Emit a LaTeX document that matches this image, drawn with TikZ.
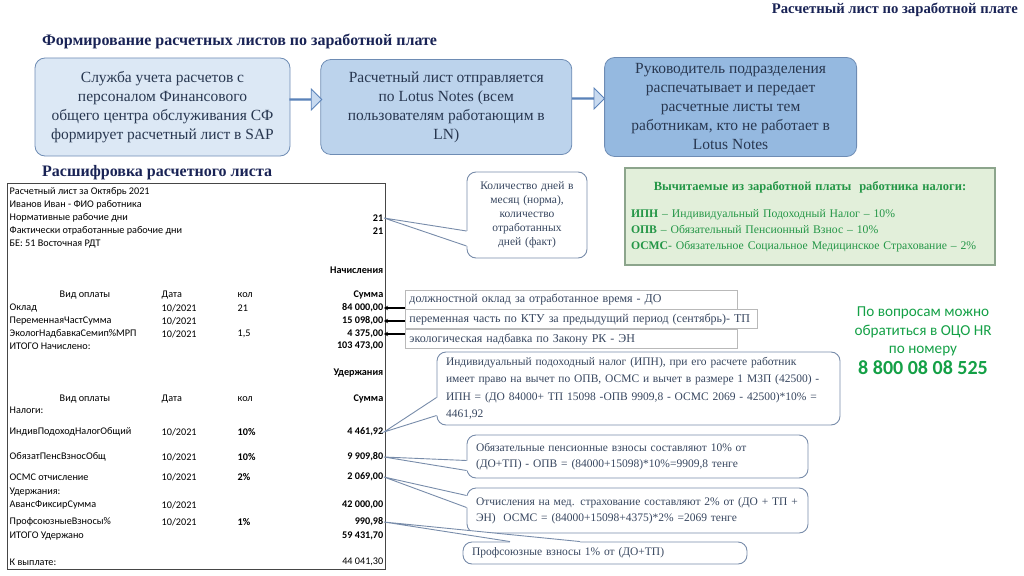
\documentclass[tikz,border=0pt]{standalone}
\usepackage{fontspec}
\setmainfont{Liberation Serif}
\newfontfamily\calibri{Carlito}
\usetikzlibrary{shapes.arrows,arrows.meta,positioning,calc}
\definecolor{headclr}{RGB}{25,35,85}
\definecolor{flowtxt}{RGB}{40,55,80}
\definecolor{flowbdr}{RGB}{110,140,180}
\definecolor{flow1}{RGB}{220,232,245}
\definecolor{flow2}{RGB}{188,211,236}
\definecolor{flow3}{RGB}{149,185,224}
\definecolor{arrfill}{RGB}{200,218,240}
\definecolor{arrbdr}{RGB}{90,130,185}
\definecolor{notebdr}{RGB}{120,140,170}
\definecolor{notetxt}{RGB}{55,70,95}
\definecolor{infobdr}{RGB}{185,185,185}
\definecolor{sheetbdr}{RGB}{70,70,70}
\definecolor{taxfill}{RGB}{226,239,218}
\definecolor{taxbdr}{RGB}{140,165,140}
\definecolor{taxtxt}{RGB}{35,150,70}
\definecolor{hrgreen}{RGB}{20,160,70}
\tikzset{
  head/.style={font=\bfseries\fontsize{16}{18}\selectfont,text=headclr,inner sep=0pt},
  flowbox/.style={rectangle,rounded corners=10pt,draw=flowbdr,line width=0.8pt,
    align=center,text=flowtxt,font=\fontsize{15.5}{19}\selectfont,inner sep=2pt},
  flowarr/.style={single arrow,draw=arrbdr,fill=arrfill,line width=0.8pt,
    minimum height=#1,minimum width=21pt,single arrow head extend=6.5pt,inner sep=0pt},
  sheet/.style={rectangle,draw=sheetbdr,line width=1.1pt,fill=white},
  cell/.style={font=\calibri\fontsize{10.2}{11}\selectfont,inner sep=0.5pt,text=black},
  sumcell/.style={cell,font=\calibri\bfseries\fontsize{10.2}{11}\selectfont,anchor=east},
  infobox/.style={rectangle,draw=infobdr,line width=0.8pt,fill=white,
    minimum height=19pt,inner xsep=4pt,inner ysep=0pt,align=left,
    font=\fontsize{12}{14}\selectfont,text=notetxt},
  note/.style={rectangle,rounded corners=9pt,draw=notebdr,line width=0.9pt,fill=white,
    inner xsep=9pt,inner ysep=2pt,align=left,text=notetxt,font=\fontsize{11.5}{17.5}\selectfont},
  tail/.style={draw=notebdr,line width=0.9pt},
  taxbox/.style={rectangle,draw=taxbdr,line width=1.1pt,fill=taxfill,inner xsep=6pt,
    align=left,text=taxtxt,font=\fontsize{11.7}{16}\selectfont},
  hr/.style={align=center,text=hrgreen,font=\calibri\fontsize{15.2}{18.5}\selectfont,inner sep=0pt},
  arr/.style={-{Stealth[length=4pt,width=4.5pt]},line width=1.4pt,black},
}
\begin{document}
\begin{tikzpicture}[x=1pt,y=-1pt]
  \useasboundingbox (0,0) rectangle (1024,575);

  % formation of pay slips
  \node[head,font=\bfseries\fontsize{14.7}{18}\selectfont,anchor=east] (title) at (1018,10) {Расчетный лист по заработной плате};
  \node[head,anchor=west] (hflow) at (42,41) {Формирование расчетных листов по заработной плате};
  \node[flowbox,fill=flow1,minimum width=255pt,minimum height=98pt] (srv) at (162.5,107)
    {Служба учета расчетов с\\персоналом Финансового\\общего центра обслуживания СФ\\формирует расчетный лист в SAP};
  \node[flowbox,fill=flow2,minimum width=251pt,minimum height=95pt,right=30pt of srv] (mail)
    {Расчетный лист отправляется\\по Lotus Notes  (всем\\пользователям работающим в\\LN)};
  \node[flowbox,fill=flow3,minimum width=252pt,minimum height=99pt,right=32pt of mail] (lead)
    {Руководитель подразделения\\распечатывает и передает\\расчетные листы тем\\работникам, кто не работает в\\Lotus Notes};
  \node[flowarr=32pt] (a1) at ($(srv.east)!0.5!(mail.west)+(0,-7.5)$) {};
  \node[flowarr=32pt] (a2) at ($(mail.east)!0.5!(lead.west)+(0,-8.5)$) {};

  % pay slip
  \node[head,anchor=west] (hslip) at (42,173) {Расшифровка расчетного листа};
  \node[sheet,anchor=north west,minimum width=378pt,minimum height=386pt] (sheet) at (7,183) {};

  \foreach \y/\t in {192/{Расчетный лист за Октябрь 2021},205/{Иванов Иван - ФИО работника},
      218/{Нормативные рабочие дни},231/{Фактически отработанные рабочие дни},244/{БЕ: 51 Восточная РДТ},
      308/{Оклад},321/{ПеременнаяЧастСумма},334/{ЭкологНадбавкаСемип\%МРП},346/{ИТОГО Начислено:},
      410/{Налоги:},432/{ИндивПодоходНалогОбщий},457/{ОбязатПенсВзносОбщ},477/{ОСМС отчисление},
      492/{Удержания:},505/{АвансФиксирСумма},522/{ПрофсоюзныеВзносы\%},536/{ИТОГО Удержано},
      562/{К выплате:}}
    \node[cell,anchor=west] (row\y) at (9,\y) {\t};

  \foreach \y in {295,399} {
    \node[cell] (vid\y) at (85,\y) {Вид оплаты};
    \node[cell,anchor=west] (dat\y) at (161,\y) {Дата};
    \node[cell,anchor=west] (kol\y) at (237,\y) {кол};
  }
  \foreach \y in {308,321,334,432,457,477,505,522}
    \node[cell,anchor=west] (date\y) at (161,\y) {10/2021};
  \foreach \y/\t in {308/21,334/{1,5},432/\textbf{10\%},457/\textbf{10\%},477/\textbf{2\%},522/\textbf{1\%}}
    \node[cell,anchor=west] (kol\y) at (237,\y) {\t};
  \foreach \y/\t in {218/21,231/21,270/Начисления,295/Сумма,308/{84 000,00},321/{15 098,00},
      334/{4 375,00},346/{103 473,00},373/Удержания,399/Сумма,432/{4 461,92},457/{9 909,80},
      477/{2 069,00},505/{42 000,00},522/{990,98},536/{59 431,70}}
    \node[sumcell] (sum\y) at (384,\y) {\t};
  \node[cell,anchor=east] (sum562) at (384,562) {44 041,30};

  % explanations
  \node[infobox,text width=324pt,anchor=west] (do) at (405,299.5)
    {должностной оклад за отработанное время - ДО};
  \node[infobox,text width=344pt,anchor=north west] (tp) at (do.south west)
    {переменная часть по КТУ за предыдущий период (сентябрь)- ТП};
  \node[infobox,text width=324pt,anchor=north west] (en) at (tp.south west)
    {экологическая надбавка по Закону РК - ЭН};
  \foreach \b/\v in {do/sum308,tp/sum321,en/sum334}
    \draw[arr] (\b.west |- \v.east) -- (\v.east);

  \node[note,font=\fontsize{11.5}{14}\selectfont,text width=102pt,align=center,minimum height=86pt] (cdays) at (527,215)
    {Количество дней в\\месяц (норма),\\количество\\отработанных\\дней (факт)};
  \node[note,text width=385pt,minimum height=73pt] (ipn) at (638.5,388.5)
    {Индивидуальный подоходный налог (ИПН), при его расчете работник\\
     имеет право на вычет по ОПВ, ОСМС и вычет в размере 1 МЗП (42500) -\\
     ИПН = (ДО 84000+ ТП 15098 -ОПВ 9909,8 - ОСМС 2069 - 42500)*10\% =\\
     4461,92};
  \node[note,font=\fontsize{11.5}{16}\selectfont,text width=323pt,minimum height=43pt] (opv) at (637.5,456.5)
    {Обязательные пенсионные взносы составляют 10\% от\\
     (ДО+ТП) - ОПВ = (84000+15098)*10\%=9909,8 тенге};
  \node[note,font=\fontsize{11.5}{16}\selectfont,text width=323pt,minimum height=45pt] (osms) at (637.5,510.5)
    {Отчисления на мед. страхование составляют 2\% от (ДО + ТП +\\
     ЭН)~~ОСМС = (84000+15098+4375)*2\% =2069 тенге};
  \node[note,text width=266pt,minimum height=22pt,inner ysep=0pt] (prof) at (605,553)
    {Профсоюзные взносы 1\% от (ДО+ТП)};

  \foreach \n/\p/\v/\ax/\ay/\bx/\by/\ix/\iy in {cdays/west/sum218/0/16/0/31/3/0,
      ipn/west/sum432/0/9/0/27/3/0,opv/west/sum457/0/4/0/14/3/0,
      osms/west/sum477/0/-15/0/-3/3/0,prof/north/sum522/-95/0/-25/0/0/3} {
    \fill[white] ($(\n.\p)+(\ax,\ay)$) -- (\v.east) -- ($(\n.\p)+(\bx,\by)$)
      -- ($(\n.\p)+(\bx,\by)+(\ix,\iy)$) -- ($(\n.\p)+(\ax,\ay)+(\ix,\iy)$) -- cycle;
    \draw[tail] ($(\n.\p)+(\ax,\ay)$) -- (\v.east) -- ($(\n.\p)+(\bx,\by)$);
  }

  % taxes and contacts
  \node[taxbox,text width=358pt,minimum height=97pt] (taxes) at (810,216.5)
    {\makebox[\linewidth]{\bfseries\fontsize{12.5}{16}\selectfont Вычитаемые из заработной платы~~работника налоги:}\\[11pt]
     \textbf{ИПН} – Индивидуальный Подоходный Налог – 10\%\\
     \textbf{ОПВ} – Обязательный Пенсионный Взнос – 10\%\\
     \textbf{ОСМС}- Обязательное Социальное Медицинское Страхование – 2\%};
  \node[hr] (hr) at (923,331.5) {По вопросам можно\\обратиться в ОЦО HR\\по номеру};
  \node[hr,font=\calibri\bfseries\fontsize{20}{24}\selectfont,below=4pt of hr] (phone) {8 800 08 08 525};
\end{tikzpicture}
\end{document}
